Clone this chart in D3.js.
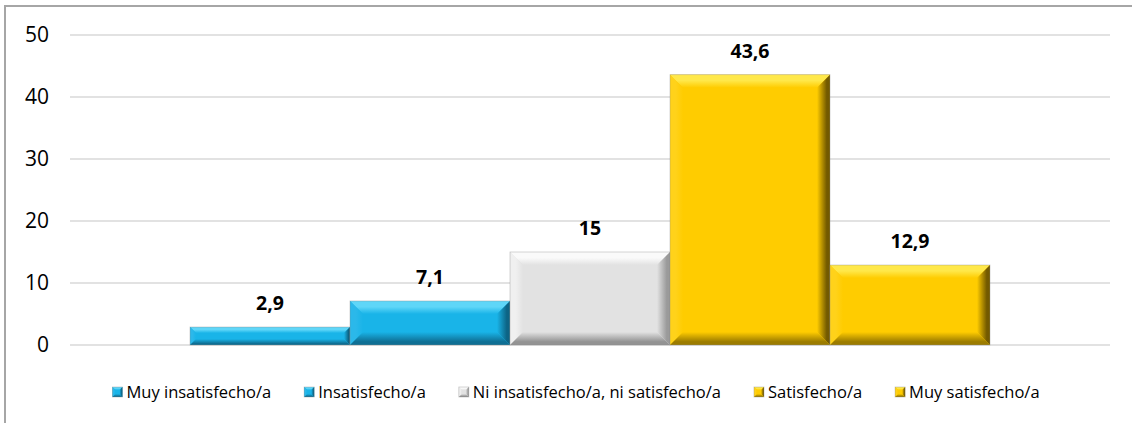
<!doctype html>
<html lang="es">
<head>
    <meta charset="UTF-8">
    <title>Satisfacción</title>
    <style>
        html, body {
            margin: 0;
            padding: 0;
            background: #fff;
        }
        svg {
            display: block;
            font-family: 'Open Sans', sans-serif;
        }
    </style>
</head>
<body>
<svg width="1132" height="423"></svg>
<script src="https://d3js.org/d3.v7.min.js"></script>
<script>
  (function () {
    // data
    const categories = ['Muy insatisfecho/a', 'Insatisfecho/a', 'Ni insatisfecho/a, ni satisfecho/a', 'Satisfecho/a', 'Muy satisfecho/a']
    const values = [2.9, 7.1, 15, 43.6, 12.9]
    const valueLabels = ['2,9', '7,1', '15', '43,6', '12,9']
    const yTicks = [0, 10, 20, 30, 40, 50]

    // bevel palettes: face, top, left, right, bottom
    const blue = { id: 'blue', face: '#19b4e8', top: '#5fd6f8', left: '#2bb8ea', right: '#0d6485', bottom: '#0f6f94' }
    const grey = { id: 'grey', face: '#e2e2e2', top: '#fafafa', left: '#f0f0f0', right: '#9a9a9a', bottom: '#939393' }
    const gold = { id: 'gold', face: '#ffcc00', top: '#ffe84a', left: '#ffd21a', right: '#735a00', bottom: '#9c7c00' }
    const palettes = [blue, blue, grey, gold, gold]

    const svg = d3.select('svg')
    const defs = svg.append('defs')

    // one gradient per facet, running from the outer edge to the face
    const facetDir = {
      top: [0, 0, 0, 1],
      left: [0, 0, 1, 0],
      right: [1, 0, 0, 0],
      bottom: [0, 1, 0, 0]
    };
    [blue, grey, gold].forEach(p => {
      Object.keys(facetDir).forEach(k => {
        const d = facetDir[k]
        const lg = defs.append('linearGradient')
          .attr('id', `${p.id}-${k}`)
          .attr('x1', d[0]).attr('y1', d[1])
          .attr('x2', d[2]).attr('y2', d[3])
        lg.append('stop').attr('offset', 0).attr('stop-color', p[k])
        lg.append('stop').attr('offset', k === 'top' || k === 'left' ? 0.45 : 0.25).attr('stop-color', p[k])
        lg.append('stop').attr('offset', 1).attr('stop-color', p.face)
      })
    })

    // chart frame (only top and left edges fall inside the picture)
    svg.append('rect')
      .attr('x', 5).attr('y', 6)
      .attr('width', 1140).attr('height', 430)
      .attr('fill', 'none')
      .attr('stroke', '#a6a6a6')
      .attr('stroke-width', 2)

    const x = d3.scaleBand()
      .domain(categories)
      .range([70, 1110])
      .paddingInner(0)
      .paddingOuter(0.75)

    const y = d3.scaleLinear()
      .domain([0, 50])
      .range([345, 35])

    // gridlines
    svg.append('g')
      .selectAll('line')
      .data(yTicks)
      .enter()
      .append('line')
      .attr('x1', 70)
      .attr('x2', 1110)
      .attr('y1', d => y(d))
      .attr('y2', d => y(d))
      .attr('stroke', '#d9d9d9')
      .attr('stroke-width', 1.5)

    // y axis labels
    const yAxis = svg.append('g')
      .attr('transform', 'translate(59,0)')
      .call(d3.axisLeft(y).tickValues(yTicks).tickSize(0).tickPadding(10))
    yAxis.select('.domain').remove()
    yAxis.selectAll('text')
      .attr('font-size', 21)
      .attr('font-family', "'Open Sans', sans-serif")
      .attr('fill', '#000')

    const bevelBar = (g, x0, x1, y0, y1, p, b) => {
      const pts = {
        top: [[x0, y0], [x1, y0], [x1 - b, y0 + b], [x0 + b, y0 + b]],
        left: [[x0, y0], [x0 + b, y0 + b], [x0 + b, y1 - b], [x0, y1]],
        right: [[x1, y0], [x1, y1], [x1 - b, y1 - b], [x1 - b, y0 + b]],
        bottom: [[x0, y1], [x0 + b, y1 - b], [x1 - b, y1 - b], [x1, y1]]
      }
      g.append('rect')
        .attr('x', x0).attr('y', y0)
        .attr('width', x1 - x0)
        .attr('height', y1 - y0)
        .attr('fill', p.face)
      Object.keys(pts).forEach(k => {
        g.append('polygon')
          .attr('points', pts[k].map(q => q.join(',')).join(' '))
          .attr('fill', `url(#${p.id}-${k})`)
      })
      g.append('rect')
        .attr('x', x0).attr('y', y0)
        .attr('width', x1 - x0).attr('height', y1 - y0)
        .attr('fill', 'none')
        .attr('stroke', '#8c8c8c')
        .attr('stroke-opacity', 0.45)
        .attr('stroke-width', 0.8)
    }

    const bars = svg.append('g')
    categories.forEach((c, i) => {
      const x0 = x(c)
      const x1 = x0 + x.bandwidth()
      const y0 = y(values[i])
      const y1 = y(0)
      const b = Math.min(13, (y1 - y0) / 3)
      bevelBar(bars.append('g'), x0, x1, y0, y1, palettes[i], b)
    })

    // value labels
    svg.append('g')
      .selectAll('text')
      .data(categories)
      .enter()
      .append('text')
      .attr('x', d => x(d) + x.bandwidth() / 2)
      .attr('y', (d, i) => y(values[i]) - 17)
      .attr('text-anchor', 'middle')
      .attr('font-size', 19.5)
      .attr('font-weight', 'bold')
      .attr('fill', '#000')
      .text((d, i) => valueLabels[i])

    // legend
    const legend = svg.append('g').attr('transform', 'translate(0,392)')
    const items = legend.selectAll('g')
      .data(categories)
      .enter()
      .append('g')
    items.append('text')
      .attr('x', 14)
      .attr('y', 5.5)
      .attr('font-size', 16.5)
      .attr('fill', '#000')
      .text(d => d)
    items.each(function (d, i) {
      bevelBar(d3.select(this), 0, 10, -5, 5, palettes[i], 3)
    })
    const gap = 33
    const widths = []
    items.each(function () {
      widths.push(14 + d3.select(this).select('text').node().getComputedTextLength())
    })
    const total = d3.sum(widths) + gap * (widths.length - 1)
    let cx = 576 - total / 2
    items.each(function (d, i) {
      d3.select(this).attr('transform', `translate(${cx},0)`)
      cx += widths[i] + gap
    })
  })()
</script>
</body>
</html>
